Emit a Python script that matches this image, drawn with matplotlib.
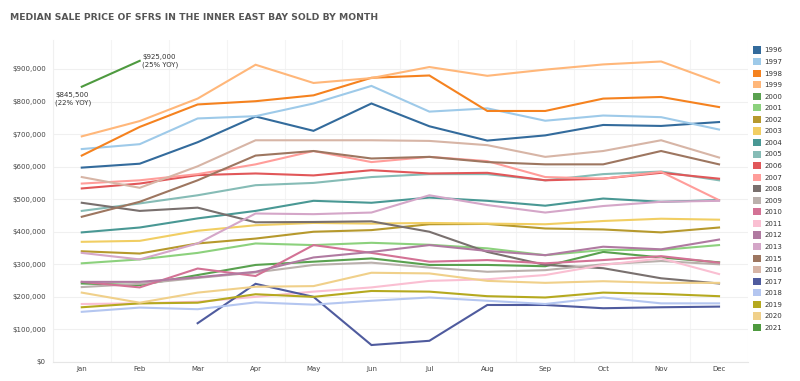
import numpy as np
import matplotlib.pyplot as plt
from matplotlib.patches import Patch

months = ['Jan', 'Feb', 'Mar', 'Apr', 'May', 'Jun',
          'Jul', 'Aug', 'Sep', 'Oct', 'Nov', 'Dec']
years = ['1996', '1997', '1998', '1999', '2000', '2001', '2002', '2003',
         '2004', '2005', '2006', '2007', '2008', '2009', '2010', '2011',
         '2012', '2013', '2015', '2016', '2017', '2018', '2019', '2020',
         '2021']
colors = ['#336b9c', '#9ecae9', '#f5821f', '#ffb77a', '#59a14f', '#8cd17d',
          '#b6992d', '#f1ce63', '#499894', '#86bcb6', '#e15759', '#ff9d9a',
          '#79706e', '#bab0ac', '#d37295', '#fabfd2', '#b07aa1', '#d4a6c8',
          '#9d7660', '#d7b5a6', '#4f5b9e', '#b4c6f0', '#b5a91f', '#f0d08a',
          '#4e9a3f']

# median price in $ thousands (nan = no sales data)
nan = np.nan
p1996 = [597, 609, 675, 754, 710, 794, 724, 680, 696, 728, 725, 737]
p1997 = [654, 669, 748, 755, 794, 848, 769, 779, 741, 757, 752, 714]
p1998 = [634, 722, 791, 801, 819, 873, 880, 771, 771, 809, 814, 783]
p1999 = [693, 740, 809, 913, 857, 872, 906, 879, 898, 914, 923, 858]
p2000 = [241, 236, 267, 298, 308, 318, 298, 298, 294, 338, 321, 306]
p2001 = [303, 315, 335, 364, 359, 366, 360, 349, 328, 344, 344, 359]
p2002 = [340, 333, 364, 379, 400, 405, 423, 424, 410, 407, 398, 413]
p2003 = [369, 372, 403, 420, 427, 425, 427, 425, 423, 433, 440, 437]
p2004 = [398, 413, 441, 464, 495, 489, 505, 495, 480, 502, 492, 497]
p2005 = [464, 487, 512, 543, 550, 568, 577, 577, 558, 577, 585, 558]
p2006 = [533, 548, 574, 579, 573, 589, 579, 581, 558, 563, 581, 563]
p2007 = [548, 558, 577, 607, 648, 614, 630, 617, 568, 563, 584, 497]
p2008 = [489, 464, 474, 429, 430, 432, 400, 338, 298, 288, 257, 241]
p2009 = [230, 240, 258, 275, 298, 305, 290, 277, 282, 300, 310, 300]
p2010 = [246, 229, 287, 264, 359, 335, 308, 313, 303, 313, 325, 305]
p2011 = [178, 180, 185, 200, 216, 229, 249, 254, 267, 298, 318, 270]
p2012 = [246, 246, 260, 277, 321, 338, 359, 341, 328, 354, 346, 376]
p2013 = [335, 315, 364, 456, 454, 459, 512, 482, 459, 479, 492, 495]
p2015 = [446, 492, 558, 634, 648, 625, 630, 614, 607, 607, 648, 607]
p2016 = [568, 535, 601, 681, 681, 681, 679, 666, 630, 648, 681, 628]
p2017 = [nan, nan, 119, 240, 200, 52, 65, 175, 175, 165, 168, 170]
p2018 = [154, 167, 162, 183, 176, 188, 198, 188, 178, 198, 180, 180]
p2019 = [168, 180, 182, 208, 200, 218, 216, 202, 198, 213, 209, 202]
p2020 = [213, 182, 213, 231, 233, 274, 272, 249, 243, 248, 243, 243]
p2021 = [845.5, 925] + [nan] * 10

series = [p1996, p1997, p1998, p1999, p2000, p2001, p2002, p2003, p2004,
          p2005, p2006, p2007, p2008, p2009, p2010, p2011, p2012, p2013,
          p2015, p2016, p2017, p2018, p2019, p2020, p2021]

fig = plt.figure(figsize=(8, 3.81), dpi=100)
ax = fig.add_axes([0.066, 0.05, 0.869, 0.845])
x = np.arange(len(months))

for year, vals, c in zip(years, series, colors):
    ax.plot(x, np.array(vals) * 1000, color=c, lw=1.5, solid_joinstyle='miter')

# callouts for the 2021 points
ax.annotate('$845,500\n(22% YOY)', xy=(0, p2021[0] * 1000), xytext=(-19, -4),
            textcoords='offset points', ha='left', va='top', fontsize=5,
            color='#333333', linespacing=1.25)
ax.annotate('$925,000\n(25% YOY)', xy=(1, p2021[1] * 1000), xytext=(2, 0),
            textcoords='offset points', ha='left', va='center', fontsize=5,
            color='#333333', linespacing=1.25)

ax.set_xlim(-0.5, 11.5)
ax.set_ylim(0, 989000)
ax.set_xticks(x)
ax.set_xticklabels(months)
ax.set_yticks(np.arange(0, 900001, 100000))
ax.set_yticklabels(['$0'] + ['${:,.0f}'.format(v) for v in
                             np.arange(100000, 900001, 100000)])
ax.tick_params(axis='y', length=0, labelsize=5, labelcolor='#444444', pad=5)
ax.tick_params(axis='x', length=0, labelsize=5, labelcolor='#444444', pad=3)
ax.set_xticks(np.arange(-0.5, 12, 1), minor=True)
ax.tick_params(which='minor', length=0)
ax.grid(axis='y', color='#f0f0f0', lw=0.8)
ax.grid(axis='x', which='minor', color='#f4f4f4', lw=0.8)
ax.grid(axis='x', which='major', visible=False)
ax.set_axisbelow(True)
for s in ['top', 'right']:
    ax.spines[s].set_visible(False)
ax.spines['bottom'].set_color('#e6e6e6')
ax.spines['left'].set_color('#f0f0f0')

handles = [Patch(facecolor=c, edgecolor='none') for c in colors]
fig.legend(handles, years, loc='upper left', bbox_to_anchor=(0.941, 0.878),
           frameon=False, fontsize=5, handlelength=1.2, handleheight=1.2,
           handletextpad=0.5, labelspacing=0.64, borderaxespad=0,
           borderpad=0, labelcolor='#333333')

fig.text(0.013, 0.955, 'MEDIAN SALE PRICE OF SFRS IN THE INNER EAST BAY SOLD BY MONTH',
         fontsize=6.7, color='#555555', ha='left', va='center',
         fontweight='bold')

fig.savefig('out.png', dpi=100)
